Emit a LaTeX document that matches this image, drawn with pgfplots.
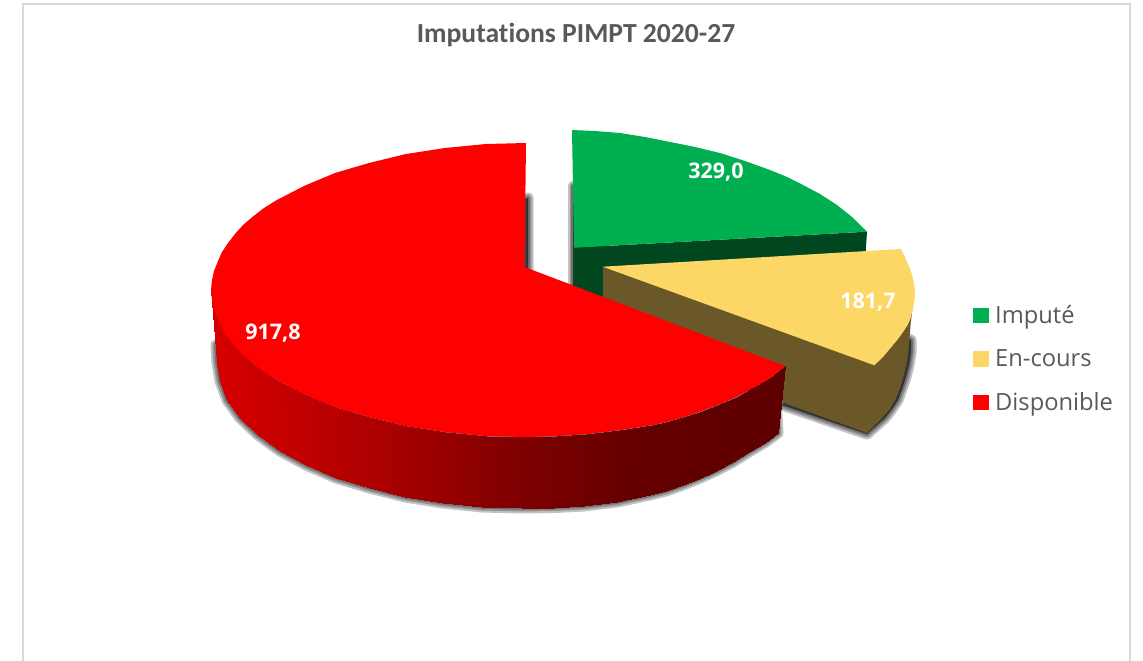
\documentclass[border=0pt]{standalone}
\usepackage{fontspec}
\setmainfont{Open Sans}
\newfontfamily\titlefont[Ligatures=NoCommon]{Carlito}
\usepackage{pgfplots}
\usepackage{pgfplotstable}
\pgfplotsset{compat=1.18}
\definecolor{grn}{HTML}{00AF50}
\definecolor{grnside}{HTML}{00461F}
\definecolor{yel}{HTML}{FCD765}
\definecolor{yelside}{HTML}{6B5829}
\definecolor{redtop}{HTML}{FF0000}
\definecolor{txt}{HTML}{595959}
\definecolor{frame}{HTML}{D9D9D9}
\pgfplotstableread{
x y
528 198
528 300
776 398
778 433
765 442.5
749 452
733 462
716 471
699 478.5
683 485
666 491
650 495
617 502
584 506
554 507.5
522 508
482 507
443 503
405 497
369.5 488
336 478
306 465
280 451
258 435
240 418
227 400
220 381
217 362
216 345
400 250
}\redshadow
\pgfplotstableread{
x y
573 186
573 295
600 295
600 186
}\greenshadow
\pgfplotstableread{
x y
782 405
867 434
876 426
885 418
892 409
898 400
902 389
906 377
909 365
911 353
911 340
860 320
}\yellowshadow
\pgfplotstableread{
x y c
211 290 211
214 309 214
222 328 222
235 346 235
253 363.5 253
276 379.5 276
304 394 304
335 407 335
369 417 369
406 426 406
445 432 445
486 436 486
527 437 527
557 436 557
587 434 587
620 430 620
653 425 653
670 421 670
687 416 687
703 410.5 703
720 404 720
737 396.5 737
753 388 753
770 378 770
785 366 785
217 362 211
220 381 214
227 400 222
240 418 235
258 435 253
280 451 276
306 465 304
336 478 335
369.5 488 369
405 497 406
443 503 445
482 507 486
522 508 527
554 507.5 557
584 506 587
617 502 620
650 495 653
666 491 670
683 485 687
699 478.5 703
716 471 720
733 462 737
749 452 753
765 442.5 770
778 433 785
}\redside
\begin{document}
\begin{tikzpicture}
\begin{axis}[
  width=1143pt, height=661pt, scale only axis,
  xmin=0, xmax=1143, ymin=0, ymax=661, y dir=reverse,
  axis line style={draw=none}, ticks=none,
  colormap={redside}{rgb255(0pt)=(214,0,0) rgb255(146pt)=(178,0,0) rgb255(316pt)=(125,0,0) rgb255(430pt)=(100,0,0) rgb255(574pt)=(95,0,0)},
  point meta min=211, point meta max=785,
  legend style={at={(axis cs:973,303.5)}, anchor=north west, draw=none, fill=none,
    inner sep=0pt, outer sep=0pt, row sep=20.6pt,
    font=\fontsize{23.7}{32}\selectfont\color{txt}, cells={anchor=west}},
  legend image code/.code={\fill[#1, draw=none] (0pt,-7.8pt) rectangle (15.5pt,7.8pt); \path (20pt,0pt);},
  legend cell align=left,
]
% frame
\addplot[frame, line width=2pt, forget plot] coordinates {(22.5,661) (22.5,4.5) (1130,4.5) (1130,661)};
% green slice
\addplot[black, fill=black, opacity=.24, line width=11pt, line join=round, forget plot] table {\greenshadow} -- cycle;
\addplot[black, fill=black, opacity=.24, line width=7pt, line join=round, forget plot] table {\greenshadow} -- cycle;
\addplot[black, fill=black, opacity=.24, line width=3.5pt, line join=round, forget plot] table {\greenshadow} -- cycle;
\addplot[fill=grnside, draw=none, forget plot] coordinates {(574,247.7) (867,231.7) (865,262) (573,302)} -- cycle;
\addplot[fill=grn, draw=none, forget plot] coordinates {(572,130) (595,131) (620,133) (645,137) (670,142) (695,147) (720,153) (745,161) (770,170) (787,177) (803,185) (820,194) (837,205) (852,217) (867,231.7) (574,247.7)} -- cycle;
% yellow slice
\addplot[black, fill=black, opacity=.24, line width=11pt, line join=round, forget plot] table {\yellowshadow} -- cycle;
\addplot[black, fill=black, opacity=.24, line width=7pt, line join=round, forget plot] table {\yellowshadow} -- cycle;
\addplot[black, fill=black, opacity=.24, line width=3.5pt, line join=round, forget plot] table {\yellowshadow} -- cycle;
\addplot[fill=yelside, draw=none, forget plot] coordinates {(603,267) (603,337) (867,433) (875,425) (883,417) (890,409) (895,400) (899.5,389) (903,377) (906,365) (908,353) (909.5,338) (910.7,323) (912,313) (913,303) (914.5,295) (874,340)} -- cycle;
\addplot[fill=yel, draw=none, forget plot] coordinates {(602.7,266.7) (900.7,249) (904,255) (907,262) (910,269) (912,275) (914,283) (914.8,290) (914.8,297) (914,303) (912.5,311) (910,320) (907,326) (903,332) (898,339) (893,345) (888,351) (883,357) (874.3,365.3)} -- cycle;
% red slice
\addplot[black, fill=black, opacity=.24, line width=11pt, line join=round, forget plot] table {\redshadow} -- cycle;
\addplot[black, fill=black, opacity=.24, line width=7pt, line join=round, forget plot] table {\redshadow} -- cycle;
\addplot[black, fill=black, opacity=.24, line width=3.5pt, line join=round, forget plot] table {\redshadow} -- cycle;
\addplot[surf, shader=interp, mesh/rows=2, point meta=explicit, forget plot] table[x=x, y=y, meta=c] {\redside};
\addplot[fill=redtop, draw=none, forget plot] coordinates {(526,143) (486,144) (445,148) (406,154) (369,163) (335,173) (304,186) (276,200.5) (264,208) (253,216.5) (243,225) (235,234) (228,243) (222,252) (218,261) (214,271) (212,280) (211,290) (212,300) (214,309) (218,319) (222,328) (228,337) (235,346) (243,355) (253,363.5) (264,372) (276,379.5) (304,394) (335,407) (369,417) (406,426) (445,432) (486,436) (527,437) (557,436) (587,434) (620,430) (653,425) (670,421) (687,416) (703,410.5) (720,404) (737,396.5) (753,388) (770,378) (785,366) (524.5,267)} -- cycle;
% legend
\addlegendimage{fill=grn}
\addlegendentry{Imputé}
\addlegendimage{fill=yel}
\addlegendentry{En-cours}
\addlegendimage{fill=redtop}
\addlegendentry{Disponible}
% text
\node[font=\titlefont\bfseries\fontsize{27.6}{30}\selectfont, text=txt] at (axis cs:576,35) {Imputations PIMPT 2020-27};
\node[font=\bfseries\fontsize{21.5}{24}\selectfont, text=white] at (axis cs:716,172.5) {329,0};
\node[font=\bfseries\fontsize{21.5}{24}\selectfont, text=white] at (axis cs:868,302.5) {181,7};
\node[font=\bfseries\fontsize{21.5}{24}\selectfont, text=white] at (axis cs:273,333.5) {917,8};
\end{axis}
\end{tikzpicture}
\end{document}
